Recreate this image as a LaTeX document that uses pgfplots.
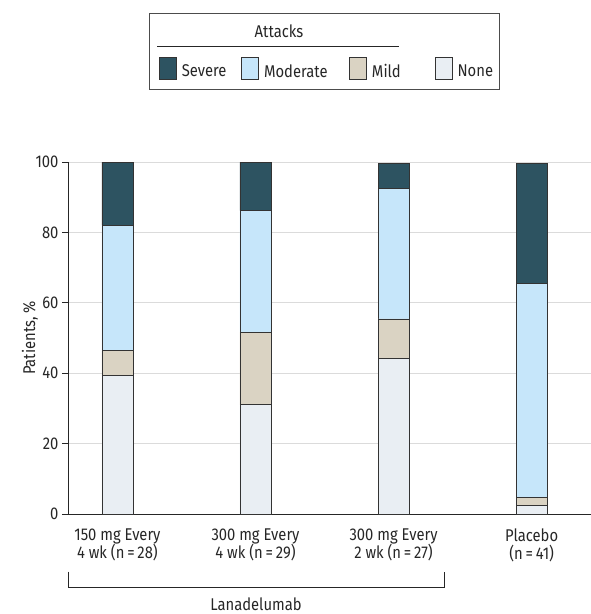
\documentclass[border=0pt]{standalone}
\usepackage{fontspec}
\setmainfont{Fira Sans}[FakeStretch=0.87]
\usepackage{pgfplots}
\pgfplotsset{compat=1.18}
\definecolor{severecol}{HTML}{2D5361}
\definecolor{moderatecol}{HTML}{C6E6FA}
\definecolor{mildcol}{HTML}{DAD3C3}
\definecolor{nonecol}{HTML}{E9EEF3}
\definecolor{txt}{HTML}{262626}
\pgfplotstableread{
x None Mild Moderate Severe
0 39.3 7.1 35.7 17.9
1 31.0 20.7 34.5 13.8
2 44.3 11.1 37.0 7.2
3 2.4 2.4 60.8 34.0
}\datatable
\begin{document}
\begin{tikzpicture}[font=\fontsize{17}{18}\selectfont, text=txt]
\useasboundingbox (-68pt,-100pt) rectangle (523pt,514pt);
\begin{axis}[
 at={(0pt,0pt)}, anchor=south west,
 scale only axis, width=523pt, height=352pt,
 xmin=-0.358, xmax=3.43, ymin=0, ymax=100,
 ybar stacked, bar width=31pt,
 axis x line*=bottom, axis y line*=left,
 axis line style={black!85, line width=0.8pt},
 xtick={0,1,2,3},
 xticklabels={{150 mg Every\\4 wk (n\,=\,28)},{300 mg Every\\4 wk (n\,=\,29)},{300 mg Every\\2 wk (n\,=\,27)},{Placebo\\(n\,=\,41)}},
 xticklabel style={align=center, font=\fontsize{17}{18}\selectfont, text=txt, anchor=north, yshift=-5.6pt},
 x tick style={draw=none},
 ytick={0,20,40,60,80,100},
 yticklabel style={font=\fontsize{17}{18}\selectfont, text=txt},
 /pgf/number format/assume math mode=true,
 ymajorgrids, grid style={black!14, line width=0.8pt},
 y tick style={black!85, line width=0.8pt},
 tick align=outside, major tick length=6pt,
 ylabel={Patients, \%},
 every axis y label/.style={at={(axis description cs:-0.063,0.5)}, anchor=base, rotate=90, font=\fontsize{17}{18}\selectfont, text=txt},
 legend columns=4,
 legend cell align=left,
 legend style={at={(axis description cs:0.174,1.267)}, anchor=west, draw=none, fill=none, inner sep=0pt,
   nodes={inner sep=0pt, font=\fontsize{17}{18}\selectfont, text=txt},
   /tikz/every even column/.style={column sep=0pt}},
 legend image code/.code={\draw[#1] (0pt,-7.5pt) rectangle (17pt,14.5pt);},
 every axis plot/.append style={draw=black!80, line width=0.8pt},
]
\addplot[fill=nonecol, forget plot] table[x=x, y=None] {\datatable};
\addplot[fill=mildcol, forget plot] table[x=x, y=Mild] {\datatable};
\addplot[fill=moderatecol, forget plot] table[x=x, y=Moderate] {\datatable};
\addplot[fill=severecol, forget plot] table[x=x, y=Severe] {\datatable};
\addlegendimage{fill=severecol, draw=black!80, line width=0.6pt}
\addlegendentry{\makebox[64.7pt][l]{\hspace{5pt}Severe}}
\addlegendimage{fill=moderatecol, draw=black!80, line width=0.6pt}
\addlegendentry{\makebox[90.3pt][l]{\hspace{5pt}Moderate}}
\addlegendimage{fill=mildcol, draw=black!80, line width=0.6pt}
\addlegendentry{\makebox[68pt][l]{\hspace{5pt}Mild}}
\addlegendimage{fill=nonecol, draw=black!80, line width=0.6pt}
\addlegendentry{\makebox[40pt][l]{\hspace{5pt}None}}
\end{axis}
% legend frame, title and rule
\draw[black!70, line width=0.8pt] (81pt,425pt) rectangle (431pt,501pt);
\node[anchor=base] at (211pt,476.7pt) {Attacks};
\draw[black!85, line width=0.8pt] (89pt,467.3pt) -- (331pt,467.3pt);
% bracket
\draw[black!85, line width=0.8pt] (0pt,-57.7pt) -- (0pt,-73pt) -- (376pt,-73pt) -- (376pt,-57.7pt);
\node[anchor=base] at (188pt,-96pt) {Lanadelumab};
\end{tikzpicture}
\end{document}
